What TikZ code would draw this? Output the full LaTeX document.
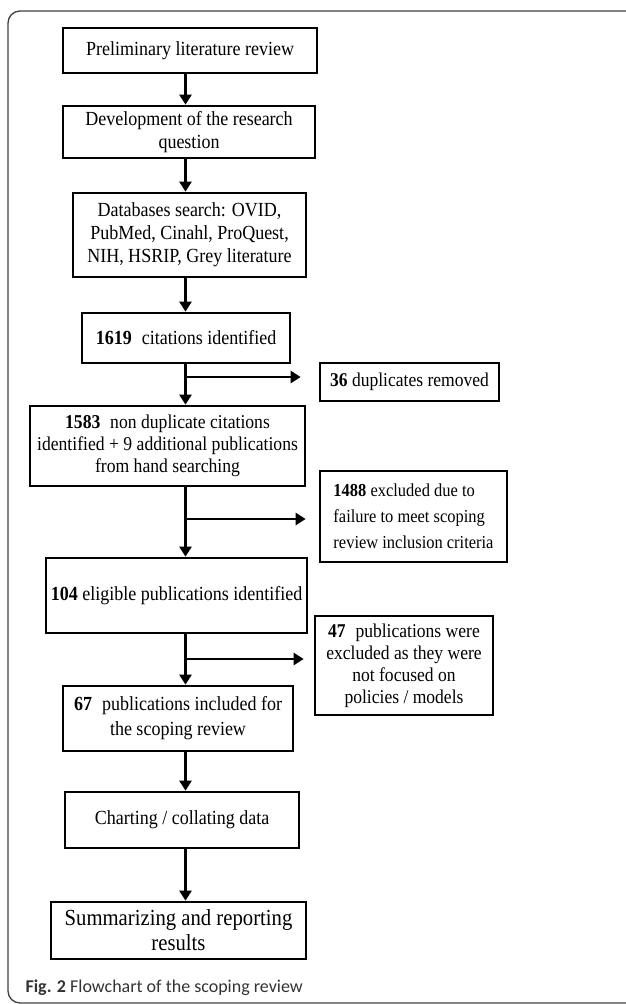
\documentclass[tikz,border=0pt]{standalone}
\usepackage{fontspec}
\setmainfont{Liberation Serif}[FakeStretch=0.9]
\newfontfamily\capfont{Carlito}
\usetikzlibrary{arrows.meta}

\tikzset{
  box/.style={draw, line width=2.7pt, align=center, inner sep=0pt, font=\fontsize{20}{23}\selectfont},
  sidebox/.style={box, font=\fontsize{19.5}{22}\selectfont},
  arr/.style={line width=2.7pt, -{Triangle[width=12pt,length=10pt]}},
}

\begin{document}
\begin{tikzpicture}[x=1pt, y=-1pt]
    \useasboundingbox (0,0) rectangle (625,1004);
    \draw [black!75, line width=1.3pt, rounded corners=12pt] (8,11) rectangle (680,1003);

    \node [box, minimum width=254pt, minimum height=45pt] (prelim) at (190,50.5) {Preliminary literature review};
    \node [box, minimum width=252pt, minimum height=52pt] (dev) at (189,132) {Development of the research\\question};
    \node [box, minimum width=233pt, minimum height=84pt] (dbs) at (189.5,235) {Databases search: OVID,\\PubMed, Cinahl, ProQuest,\\NIH, HSRIP, Grey literature};
    \node [box, minimum width=208pt, minimum height=50pt] (cit) at (186,338) {\textbf{1619}\enspace citations identified};
    \node [box, minimum width=275pt, minimum height=80pt, font=\fontsize{19.6}{22}\selectfont] (nondup) at (167.5,446) {\textbf{1583}\enspace non duplicate citations\\identified + 9 additional publications\\from hand searching};
    \node [box, minimum width=261pt, minimum height=75pt] (elig) at (176.5,595.5) {\textbf{104} eligible publications identified};
    \node [box, minimum width=230pt, minimum height=65pt, font=\fontsize{20}{25}\selectfont] (incl) at (178,718.5) {\textbf{67}\enspace publications included for\\the scoping review};
    \node [box, minimum width=234pt, minimum height=56pt] (chart) at (182,820) {Charting / collating data};
    \node [box, minimum width=255pt, minimum height=57pt, font=\fontsize{23}{25}\selectfont] (summ) at (178.5,930.5) {Summarizing and reporting\\results};

    \node [sidebox, minimum width=179pt, minimum height=38pt] (dup) at (409.5,382) {\textbf{36} duplicates removed};
    \node [sidebox, minimum width=187pt, minimum height=91pt, align=left, font=\fontsize{18.3}{26}\selectfont] (excl) at (413.5,516.5) {\textbf{1488} excluded due to\\failure to meet scoping\\review inclusion criteria};
    \node [sidebox, minimum width=178pt, minimum height=99pt] (pol) at (404,665.5) {\textbf{47}\enspace publications were\\excluded as they were\\not focused on\\policies / models};

    \coordinate (spine) at (185.5,0);
    \draw [arr] (spine |- prelim.south) -- (spine |- dev.north);
    \draw [arr] (spine |- dev.south) -- (spine |- dbs.north);
    \draw [arr] (spine |- dbs.south) -- (spine |- cit.north);
    \draw [arr] (spine |- cit.south) -- (spine |- nondup.north);
    \draw [arr] (spine |- nondup.south) -- (spine |- elig.north);
    \draw [arr] (spine |- elig.south) -- (spine |- incl.north);
    \draw [arr] (spine |- incl.south) -- (spine |- chart.north);
    \draw [arr] (spine |- chart.south) -- (spine |- summ.north);

    \coordinate (br1) at (185.5,377);
    \coordinate (br2) at (185.5,519);
    \coordinate (br3) at (185.5,659);
    \draw [arr, shorten >=18pt] (br1) -- (br1 -| dup.west);
    \draw [arr, shorten >=13pt] (br2) -- (br2 -| excl.west);
    \draw [arr, shorten >=10pt] (br3) -- (br3 -| pol.west);

    \node [anchor=base west, text=black!80, font=\capfont\fontsize{18}{22}\selectfont] (caption) at (22,992) {\textbf{Fig. 2} Flowchart of the scoping review};
\end{tikzpicture}
\end{document}
